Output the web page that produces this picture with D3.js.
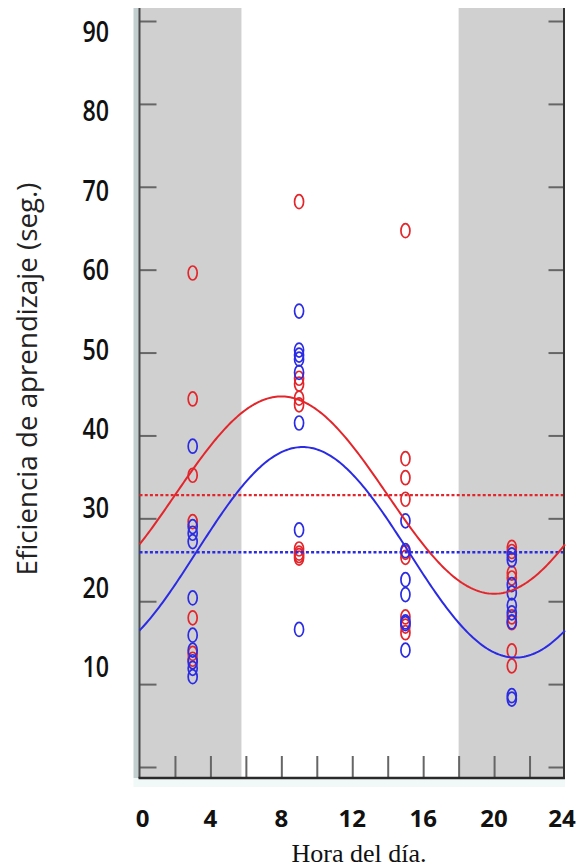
<!DOCTYPE html>
<html>
<head>
<meta charset="utf-8">
<script src="https://cdn.jsdelivr.net/npm/d3@7"></script>
<style>
  html, body { margin: 0; padding: 0; background: #fff; }
  svg { display: block; }
</style>
</head>
<body>
<div id="chart"></div>
<script>
// sampling hours (x positions of the point columns)
const hours = [3, 9, 15, 21];

// red group, values per hour column
const redByHour = [
    [59.6, 44.4, 35.2, 29.6, 18.0, 13.7, 13.0],
    [68.2, 46.9, 46.2, 44.5, 43.7, 26.3, 25.8, 25.5, 25.2],
    [64.7, 37.2, 34.9, 32.3, 25.9, 25.3, 18.1, 17.0, 16.2],
    [26.5, 26.0, 23.4, 22.8, 18.1, 17.4, 14.0, 12.2]
];

// blue group, values per hour column
const blueByHour = [
    [38.7, 29.0, 28.2, 27.2, 20.4, 15.9, 14.1, 12.7, 11.9, 10.9],
    [55.0, 50.3, 49.7, 49.2, 47.6, 41.5, 28.6, 16.6],
    [29.7, 26.1, 22.6, 20.8, 17.5, 17.3, 14.1],
    [25.6, 25.0, 22.0, 21.0, 19.5, 18.6, 17.5, 8.6, 8.2]
];

// cosinor fit: [red, blue]
const fitMesor = [32.8, 25.9];
const fitAmplitude = [11.9, 12.7];
const fitAcrophase = [8.0, 9.2];

// dark phases (hours)
const darkPhases = [[0, 5.75], [18, 24]];

const yTicks = [0, 10, 20, 30, 40, 50, 60, 70, 80, 90];
const yTickLabels = [10, 20, 30, 40, 50, 60, 70, 80, 90];
const xMinorTicks = [2, 4, 6, 8, 10, 12, 14, 16, 18, 20, 22];
const xTickLabels = [0, 4, 8, 12, 16, 20, 24];

const RED = "#e3262b";
const BLUE = "#2a2be3";

const width = 577, height = 868;
const plot = { left: 139.5, right: 565, top: 8, bottom: 778 };

const svg = d3.select("#chart").append("svg")
    .attr("width", width)
    .attr("height", height);

const x = d3.scaleLinear().domain([0, 24]).range([plot.left, plot.right]);
const y = d3.scaleLinear().domain([0, 90]).range([767, 21]);
// the tick labels in the source sit on a slightly tighter spacing than the ticks
const yLab = d3.scaleLinear().domain([10, 90]).range([666, 31]);

// -----------------------------
// background
// -----------------------------
svg.append("rect")
    .attr("x", plot.left - 6)
    .attr("y", plot.bottom)
    .attr("width", plot.right - plot.left + 6)
    .attr("height", 9)
    .attr("fill", "#f1f8f8");

svg.append("rect")
    .attr("x", plot.left - 6)
    .attr("y", plot.top)
    .attr("width", 6)
    .attr("height", plot.bottom - plot.top)
    .attr("fill", "#c3cfcf");

svg.selectAll("rect.dark")
    .data(darkPhases)
    .join("rect")
    .attr("class", "dark")
    .attr("x", d => x(d[0]))
    .attr("y", plot.top)
    .attr("width", d => x(d[1]) - x(d[0]))
    .attr("height", plot.bottom - plot.top)
    .attr("fill", "#d0d0d0");

// -----------------------------
// axes (inward ticks)
// -----------------------------
const tickColor = "#666";

svg.append("g")
    .attr("transform", `translate(${plot.left},0)`)
    .call(d3.axisLeft(y).tickValues(yTicks).tickSize(-17).tickFormat(""))
    .call(g => g.select(".domain").remove())
    .call(g => g.selectAll("line").attr("stroke", tickColor).attr("stroke-width", 2));

svg.append("g")
    .attr("transform", `translate(${plot.right - 1.5},0)`)
    .call(d3.axisRight(y).tickValues(yTicks).tickSize(-15).tickFormat(""))
    .call(g => g.select(".domain").remove())
    .call(g => g.selectAll("line").attr("stroke", tickColor).attr("stroke-width", 2));

svg.append("g")
    .attr("transform", `translate(0,${plot.bottom})`)
    .call(d3.axisBottom(x).tickValues(xMinorTicks).tickSize(-22).tickFormat(""))
    .call(g => g.select(".domain").remove())
    .call(g => g.selectAll("line").attr("stroke", tickColor).attr("stroke-width", 2));

// frame lines
svg.append("line")
    .attr("x1", plot.left).attr("x2", plot.left)
    .attr("y1", plot.top).attr("y2", plot.bottom)
    .attr("stroke", "#4a4a4a").attr("stroke-width", 2);
svg.append("line")
    .attr("x1", plot.right - 1).attr("x2", plot.right - 1)
    .attr("y1", plot.top).attr("y2", plot.bottom)
    .attr("stroke", "#333").attr("stroke-width", 2);
svg.append("line")
    .attr("x1", plot.left - 1).attr("x2", plot.right)
    .attr("y1", plot.bottom).attr("y2", plot.bottom)
    .attr("stroke", "#2a2a2a").attr("stroke-width", 2.5);

// -----------------------------
// points
// -----------------------------
function flatten(groups) {
    const out = [];
    groups.forEach((vals, i) => vals.forEach(v => out.push({ h: hours[i], v })));
    return out;
}

function drawPoints(groups, color) {
    svg.append("g")
        .selectAll("ellipse")
        .data(flatten(groups))
        .join("ellipse")
        .attr("cx", d => x(d.h))
        .attr("cy", d => y(d.v))
        .attr("rx", 4.5)
        .attr("ry", 7)
        .attr("fill", "none")
        .attr("stroke", color)
        .attr("stroke-width", 1.7);
}

drawPoints(redByHour, RED);
drawPoints(blueByHour, BLUE);

// -----------------------------
// mesor lines + cosinor curves
// -----------------------------
const colors = [RED, BLUE];

fitMesor.forEach((m, i) => {
    svg.append("line")
        .attr("x1", plot.left).attr("x2", plot.right - 2)
        .attr("y1", y(m)).attr("y2", y(m))
        .attr("stroke", colors[i])
        .attr("stroke-width", 2.4)
        .attr("stroke-dasharray", "3,2.2");
});

const curveHours = d3.range(0, 24.001, 0.1);
const line = d3.line().x(d => x(d[0])).y(d => y(d[1]));

fitMesor.forEach((m, i) => {
    const pts = curveHours.map(h => [h, m + fitAmplitude[i] * Math.cos(2 * Math.PI * (h - fitAcrophase[i]) / 24)]);
    svg.append("path")
        .attr("d", line(pts))
        .attr("fill", "none")
        .attr("stroke", colors[i])
        .attr("stroke-width", 2);
});

// -----------------------------
// labels
// -----------------------------
svg.append("g")
    .selectAll("text")
    .data(yTickLabels)
    .join("text")
    .attr("transform", d => `translate(109,${yLab(d)}) scale(0.8,1)`)
    .attr("text-anchor", "end")
    .attr("dominant-baseline", "central")
    .attr("font-family", "'Open Sans', sans-serif")
    .attr("font-weight", 600)
    .attr("font-size", 29)
    .attr("fill", "#111")
    .text(d => d);

svg.append("g")
    .selectAll("text")
    .data(xTickLabels)
    .join("text")
    .attr("x", d => x(d) + (d === 0 ? 3 : d === 24 ? -3 : 0))
    .attr("y", 827)
    .attr("text-anchor", "middle")
    .attr("font-family", "'Open Sans', sans-serif")
    .attr("font-weight", 700)
    .attr("font-size", 24)
    .attr("fill", "#111")
    .text(d => d);

const yTitle = svg.append("text")
    .attr("text-anchor", "middle")
    .attr("dominant-baseline", "central")
    .attr("font-family", "'Open Sans', sans-serif")
    .attr("font-size", 27)
    .attr("fill", "#222")
    .text("Eficiencia de aprendizaje (seg.)");
const titleLen = yTitle.node().getComputedTextLength();
yTitle.attr("transform", `translate(27,379) rotate(-90) scale(${393 / titleLen},1)`);

svg.append("text")
    .attr("x", 359)
    .attr("y", 862)
    .attr("text-anchor", "middle")
    .attr("font-family", "'Liberation Serif', 'Times New Roman', serif")
    .attr("font-size", 26)
    .attr("fill", "#111")
    .text("Hora del día.");
</script>
</body>
</html>
